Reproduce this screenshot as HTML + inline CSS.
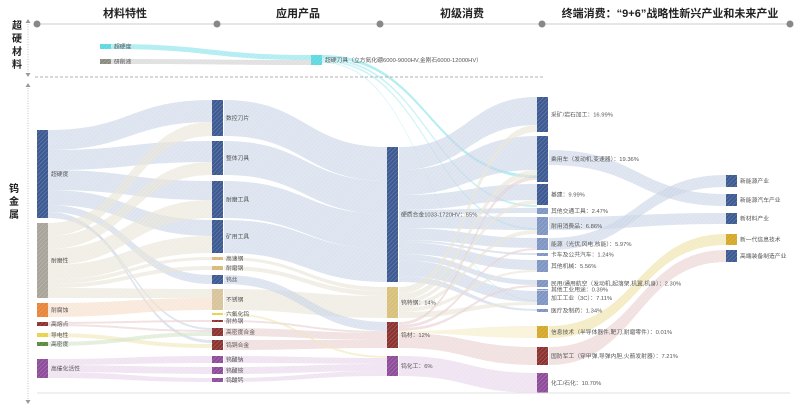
<!DOCTYPE html>
<html><head><meta charset="utf-8">
<style>
html,body{margin:0;padding:0;background:#fff;width:800px;height:410px;overflow:hidden}
svg{display:block}
text{font-family:"Liberation Sans","Noto Sans CJK SC",sans-serif}
.l{font-size:5.8px;fill:#555}
.h{font-size:11px;font-weight:bold;fill:#222}
</style></head><body>
<svg id="s" width="800" height="410" viewBox="0 0 800 410" xmlns="http://www.w3.org/2000/svg">
<defs>
<pattern id="hat" width="3" height="3" patternUnits="userSpaceOnUse" patternTransform="rotate(45)">
<rect width="3" height="3" fill="none"/><line x1="0" y1="0" x2="0" y2="3" stroke="#fff" stroke-width="0.8" stroke-opacity="0.35"/></pattern>
<pattern id="lh" width="3" height="3" patternUnits="userSpaceOnUse" patternTransform="rotate(45)">
<rect width="3" height="3" fill="none"/><line x1="0" y1="0" x2="0" y2="3" stroke="#fff" stroke-width="0.7" stroke-opacity="0.4"/></pattern>
</defs>
<g id="links"></g>
<g id="nodes"></g>
<!-- axes -->
<line x1="37" y1="24" x2="790" y2="24" stroke="#ccc" stroke-width="1"/>
<g fill="#888"><circle cx="37" cy="24" r="3.5"/><circle cx="217" cy="24" r="3.5"/><circle cx="380" cy="24" r="3.5"/><circle cx="542" cy="24" r="3.5"/><circle cx="790" cy="24" r="3.5"/></g>
<text class="h" x="125" y="17" text-anchor="middle">材料特性</text>
<text class="h" x="298" y="17" text-anchor="middle">应用产品</text>
<text class="h" x="462" y="17" text-anchor="middle">初级消费</text>
<text class="h" x="670" y="17" text-anchor="middle">终端消费：“9+6”战略性新兴产业和未来产业</text>
<g class="h" text-anchor="middle" style="font-size:10px">
<text x="17" y="29">超</text><text x="17" y="42">硬</text><text x="17" y="55">材</text><text x="17" y="68">料</text>
<text x="14" y="192">钨</text><text x="14" y="205">金</text><text x="14" y="218">属</text>
</g>
<line x1="28" y1="24" x2="28" y2="72" stroke="#aaa" stroke-dasharray="1,1.5" stroke-width="0.7"/>
<path d="M25.5 23 L28 19 L30.5 23Z M25.5 73 L28 77 L30.5 73Z" fill="#999"/>
<line x1="28" y1="88" x2="28" y2="400" stroke="#aaa" stroke-dasharray="1,1.5" stroke-width="0.7"/>
<path d="M25.5 87 L28 83 L30.5 87Z M25.5 400 L28 404 L30.5 400Z" fill="#999"/>
<line x1="35" y1="77" x2="545" y2="77" stroke="#999" stroke-dasharray="3,2" stroke-width="0.8"/>
<line x1="37" y1="393" x2="790" y2="393" stroke="#e2e2e2" stroke-width="1"/>
<g id="labels" class="l"></g>
</svg>
<script>
const NS="http://www.w3.org/2000/svg";
const B="#3d5a92",T="#c9bfa9",O="#e8853a",R="#8b3330",Y="#e8d24a",G="#5a8a3a",P="#8e4d9a",C="#5fd8e0",GR="#8b8b80",LB="#7f95c2",GD="#d4a82a";
const LBc="#c8d3e5",LTc="#e9e3d6",LOc="#f6dcc6",LPc="#e6d3ea",LRc="#e8cfcf",LYc="#f1e7b6",LCc="#9ee8ee";
function link(x0,a0,b0,x1,a1,b1,c,op){
 const m=(x0+x1)/2;
 const d=`M${x0} ${a0} C${m} ${a0} ${m} ${a1} ${x1} ${a1} L${x1} ${b1} C${m} ${b1} ${m} ${b0} ${x0} ${b0}Z`;
 const p=document.createElementNS(NS,"path");
 p.setAttribute("d",d);
 p.setAttribute("fill",c);p.setAttribute("fill-opacity",op||0.62);
 document.getElementById("links").appendChild(p);
 const q=document.createElementNS(NS,"path");q.setAttribute("d",d);q.setAttribute("fill","url(#lh)");
 document.getElementById("links").appendChild(q);
}
function node(x,y0,y1,c,label,lx,w){
 w=w||11;
 const g=document.getElementById("nodes");
 const r=document.createElementNS(NS,"rect");
 r.setAttribute("x",x);r.setAttribute("y",y0);r.setAttribute("width",w);r.setAttribute("height",Math.max(1.5,y1-y0));r.setAttribute("fill",c);g.appendChild(r);
 const r2=r.cloneNode();r2.setAttribute("fill","url(#hat)");g.appendChild(r2);
 if(label){const t=document.createElementNS(NS,"text");t.setAttribute("x",x+w+3);t.setAttribute("y",(y0+y1)/2+2);t.textContent=label;document.getElementById("labels").appendChild(t);}
}
link(110,44,49,311,55,60,LCc,0.8);
link(110,59,64,311,60,65,"#ddd",0.9);
link(322,55,58,537,175,178,LCc,0.8);
link(322,58,60,537,205,207,LCc,0.6);
link(322,60,62,537,228,230,LCc,0.5);
link(322,62,63,537,300,301,LCc,0.5);
const x1=48,x2=212,x3=224,x4=387,x5=399,x6=537,x7=549,x8=726;
link(x1,130,150,x2,100,122,LBc);
link(x1,150,170,x2,141,162,LBc);
link(x1,170,190,x2,181,200,LBc);
link(x1,190,205,x2,220,236,LBc);
link(x1,205,212,x2,275,284,LBc);
link(x1,212,215,x2,340,343,LBc);
link(x1,215,218,x2,328,330,LBc);
link(x1,223,236,x2,122,136,LTc);
link(x1,236,249,x2,162,175,LTc);
link(x1,249,265,x2,200,218,LTc);
link(x1,265,280,x2,236,253,LTc);
link(x1,280,284,x2,257,260,LTc);
link(x1,284,288,x2,266,270,LTc);
link(x1,288,298,x2,289,298,LTc);
link(x1,303,317,x2,298,310,LOc);
link(x1,322,324,x2,320,322,LRc);
link(x1,324,326,x2,330,332,LRc);
link(x1,333,337,x2,344,348,LYc);
link(x1,342,346,x2,332,336,"#d4e3c8");
link(x1,359,365,x2,356,363,LPc);
link(x1,365,372,x2,367,374,LPc);
link(x1,372,378,x2,378,382,LPc);
link(x3,100,136,x4,147,181,LBc);
link(x3,141,175,x4,181,214,LBc);
link(x3,181,218,x4,214,249,LBc);
link(x3,220,253,x4,249,282,LBc);
link(x3,257,260,x4,287,291,LTc);
link(x3,266,270,x4,291,296,LTc);
link(x3,289,310,x4,296,318,LTc);
link(x3,275,284,x4,322,331,LBc);
link(x3,320,322,x4,331,333,LRc);
link(x3,328,336,x4,333,340,LRc);
link(x3,340,350,x4,340,348,LRc);
link(x3,313,315,x4,356,358,LYc);
link(x3,356,363,x4,358,364,LPc);
link(x3,367,374,x4,364,371,LPc);
link(x3,378,382,x4,371,376,LPc);
link(x5,147,170,x6,97,125,LBc);
link(x5,170,195,x6,136,170,LBc);
link(x5,195,210,x6,184,200,LBc);
link(x5,210,215,x6,208,213,LBc);
link(x5,215,228,x6,217,230,LBc);
link(x5,228,240,x6,238,248,LBc);
link(x5,240,242,x6,253,255,LBc);
link(x5,242,254,x6,260,270,LBc);
link(x5,254,260,x6,280,285,LBc);
link(x5,260,276,x6,291,302,LBc);
link(x5,276,282,x6,309,311,LBc);
link(x5,287,294,x6,125,132,LTc);
link(x5,294,300,x6,170,176,LTc);
link(x5,300,304,x6,200,204,LTc);
link(x5,304,308,x6,230,234,LTc);
link(x5,308,312,x6,270,272,LTc);
link(x5,312,318,x6,302,305,LTc);
link(x5,322,325,x6,176,180,LRc);
link(x5,325,328,x6,248,250,LRc);
link(x5,328,331,x6,285,287,LRc);
link(x5,331,333,x6,326,338,LYc,0.5);
link(x5,333,348,x6,347,365,LRc);
link(x5,356,376,x6,373,393,LPc);
link(x7,150,165,x8,194,206,LBc);
link(x7,238,250,x8,175,187,LBc);
link(x7,217,230,x8,213,224,LBc);
link(x7,326,338,x8,234,245,LYc,0.8);
link(x7,347,365,x8,250,262,LRc);
node(37,130,218,B,"超硬度");
node(37,223,298,"#a9a49a","耐磨性");
node(37,303,317,O,"耐腐蚀");
node(37,322,326,R,"高熔点");
node(37,333,337,Y,"导电性");
node(37,342,346,G,"高密度");
node(37,359,378,P,"高催化活性");
node(100,44,49,C,"超硬度");
node(100,59,64,GR,"研削液");
node(311,55,65,C,"超硬刀具（立方氮化硼6000-9000HV,金刚石6000-12000HV）");
node(212,100,136,B,"数控刀片");
node(212,141,175,B,"整体刀具");
node(212,181,218,B,"耐磨工具");
node(212,220,253,B,"矿用工具");
node(212,257,260,"#d9b878","高速钢");
node(212,266,270,"#d9b878","耐磨钢");
node(212,275,284,B,"钨丝");
node(212,289,310,"#d8c49a","不锈钢");
node(212,313,315,Y,"六氟化钨");
node(212,320,322,R,"耐热钢");
node(212,328,336,R,"高密度合金");
node(212,340,350,R,"钨铜合金");
node(212,356,363,P,"钨酸钠");
node(212,367,374,P,"钨酸铵");
node(212,378,382,P,"钨酸钙");
node(387,147,282,B,"硬质合金1033-1720HV：55%");
node(387,287,318,"#d8c07a","钨特钢：14%");
node(387,322,348,R,"钨材：12%");
node(387,356,376,P,"钨化工：6%");
node(537,97,132,B,"采矿/岩石加工：16.99%");
node(537,136,182,B,"乘用车（发动机,变速器）：19.36%");
node(537,184,205,B,"基建：9.99%");
node(537,208,214,LB,"其他交通工具：2.47%");
node(537,217,235,LB,"耐用消费品：6.86%");
node(537,238,250,LB,"能源（光伏,风电,核能）：5.97%");
node(537,253,256,LB,"卡车及公共汽车：1.24%");
node(537,260,272,LB,"其他机械：5.56%");
node(537,280,287,LB,"民用/通用航空（发动机,起落架,机翼,机身）：2.30%");
node(537,289,290,LB,"其他工业用途：0.39%");
node(537,291,305,LB,"加工工业（3C）：7.11%");
node(537,309,312,LB,"医疗及制药：1.34%");
node(537,326,338,GD,"信息技术（半导体器件,靶刀,耐磨零件）：0.01%");
node(537,347,365,R,"国防军工（穿甲弹,导弹内胆,火箭发射器）：7.21%");
node(537,373,393,P,"化工/石化：10.70%");
node(726,175,187,B,"新能源产业");
node(726,194,206,B,"新能源汽车产业");
node(726,213,224,B,"新材料产业");
node(726,234,245,GD,"新一代信息技术");
node(726,250,262,B,"高端装备制造产业");
</script>
</body></html>
